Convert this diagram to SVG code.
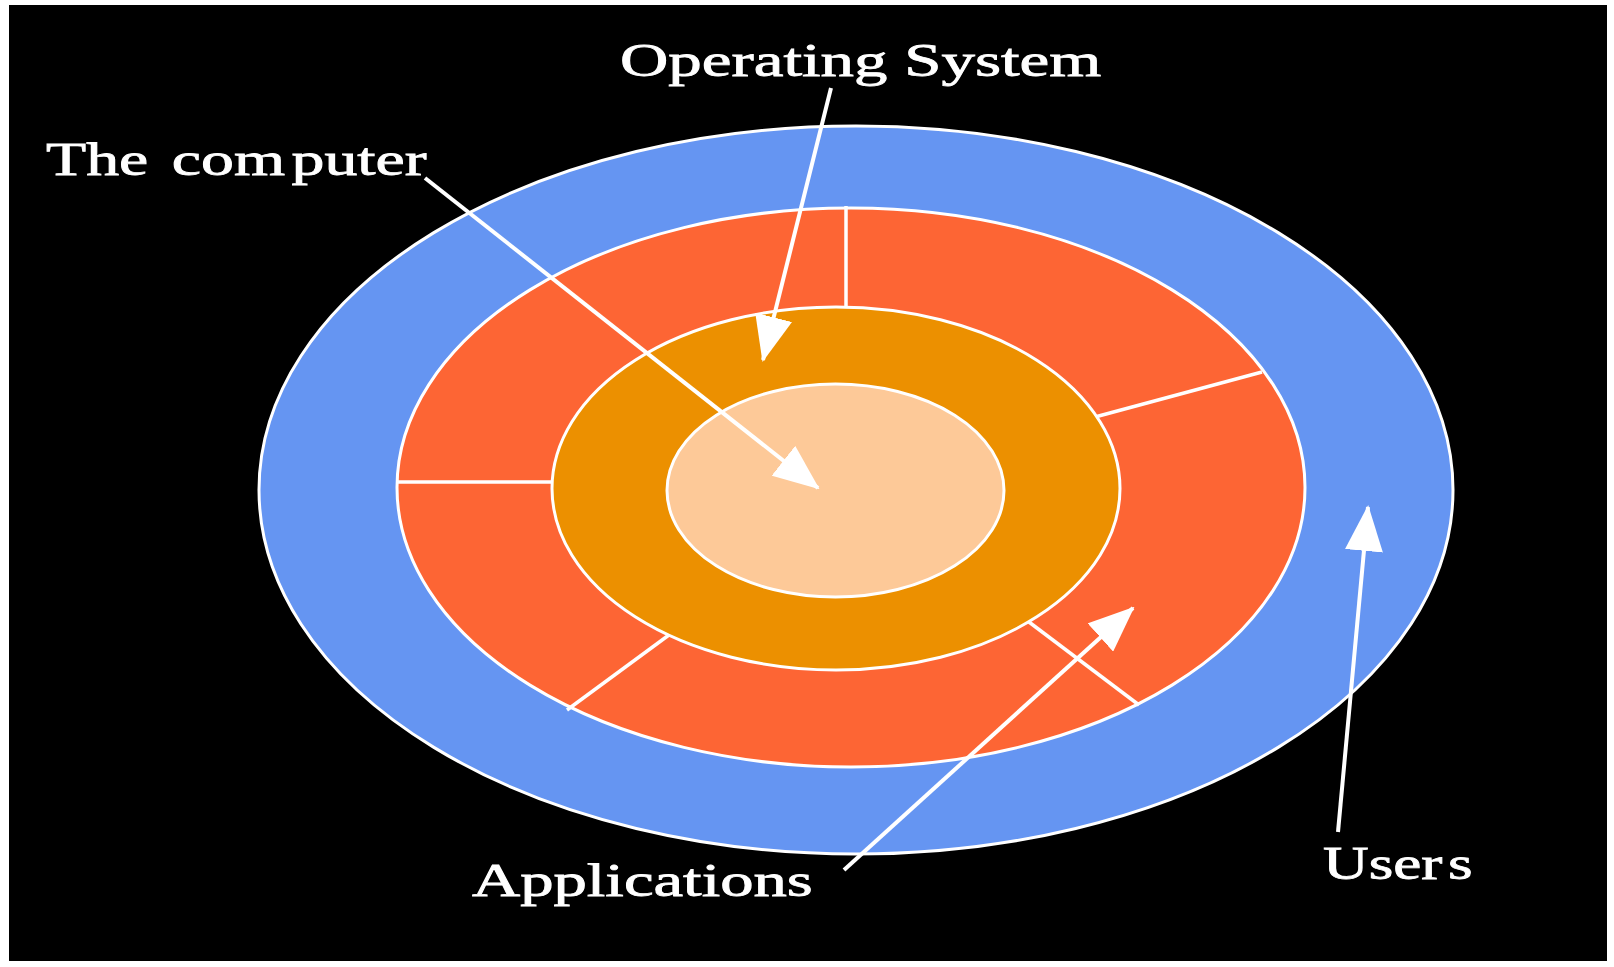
<svg xmlns="http://www.w3.org/2000/svg" width="1614" height="967" viewBox="0 0 1614 967">
  <style>
    .ring { stroke: #ffffff; stroke-width: 3; }
    .div { stroke: #ffffff; stroke-width: 3.5; fill: none; }
    .conn { stroke: #ffffff; stroke-width: 4; fill: none; marker-end: url(#head); }
    .lbl { font-family: "Liberation Serif", "Times New Roman", serif; font-size: 46px; fill: #ffffff; stroke: #ffffff; stroke-width: 0.8; }
  </style>
  <defs>
    <marker id="head" markerUnits="userSpaceOnUse" markerWidth="46" markerHeight="38" refX="44" refY="19" orient="auto">
      <path d="M0,0 L46,19 L0,38 Z" fill="#ffffff"/>
    </marker>
  </defs>
  <rect x="0" y="0" width="1614" height="967" fill="#ffffff"/>
  <rect x="9" y="5" width="1598" height="956" fill="#000000"/>

  <g id="users">
    <ellipse class="ring" cx="856" cy="490" rx="597" ry="364" fill="#6595F2"/>
  </g>
  <g id="applications">
    <ellipse class="ring" cx="851" cy="487.5" rx="454" ry="279.5" fill="#FD6534"/>
    <line class="div" x1="846" y1="206" x2="846" y2="312"/>
    <line class="div" x1="397" y1="482" x2="556" y2="482"/>
    <line class="div" x1="1095" y1="417" x2="1262" y2="372"/>
    <line class="div" x1="567" y1="710" x2="673" y2="632"/>
    <line class="div" x1="1025" y1="619" x2="1139" y2="705"/>
  </g>
  <g id="operating-system">
    <ellipse class="ring" cx="836" cy="488.5" rx="284" ry="181.5" fill="#EC9000"/>
  </g>
  <g id="computer">
    <ellipse class="ring" cx="835.5" cy="490.5" rx="168.5" ry="106.5" fill="#FDC998"/>
  </g>

  <g id="connectors">
    <line class="conn" x1="425" y1="178" x2="818" y2="488"/>
    <line class="conn" x1="831" y1="88" x2="763" y2="360"/>
    <line class="conn" x1="844" y1="870" x2="1133" y2="608"/>
    <line class="conn" x1="1338" y1="832" x2="1368" y2="507"/>
  </g>

  <g id="label-os">
    <text class="lbl" transform="matrix(1.455,0,0,1,620,76)">Operating System</text>
  </g>
  <g id="label-computer">
    <text class="lbl" transform="matrix(1.43,0,0,1,46,175)">The <tspan dx="5">com</tspan><tspan dx="4.5">puter</tspan></text>
  </g>
  <g id="label-applications">
    <text class="lbl" transform="matrix(1.45,0,0,1,472,896)">Applications</text>
  </g>
  <g id="label-users">
    <text class="lbl" transform="matrix(1.375,0,0,1,1323,879)">User<tspan dx="4">s</tspan></text>
  </g>
</svg>
